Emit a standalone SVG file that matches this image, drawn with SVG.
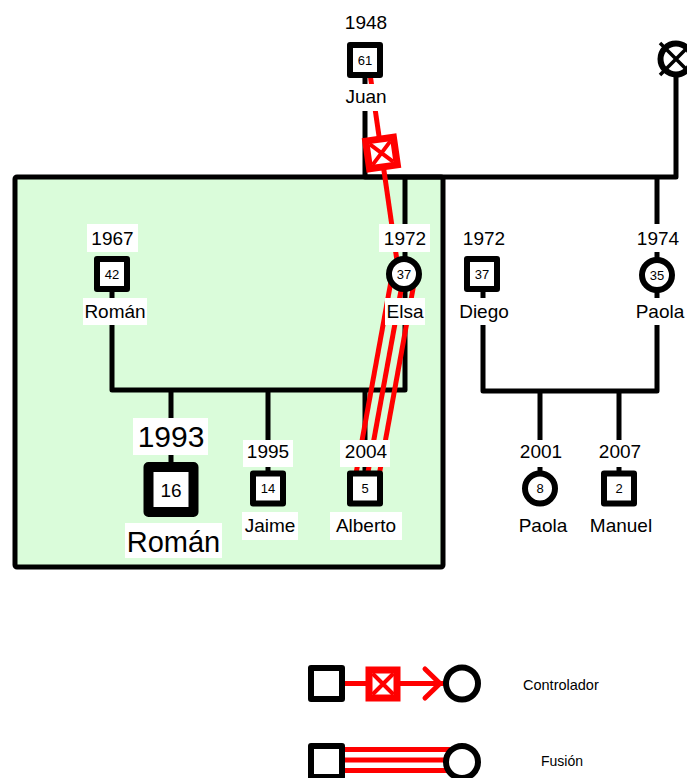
<svg xmlns="http://www.w3.org/2000/svg" width="687" height="778" viewBox="0 0 687 778">
<defs>
<style>
.ln{fill:none;stroke:#000;stroke-width:5;stroke-linejoin:round}
.red{fill:none;stroke:#ff0000;stroke-width:5}
.sq{fill:#fff;stroke:#000;stroke-width:6;stroke-linejoin:round}
.ci{fill:#fff;stroke:#000;stroke-width:6}
.lb{fill:#fff}
.t{font-family:"Liberation Sans",Arial,sans-serif;fill:#000;text-anchor:middle}
.y{font-size:19px}
.a{font-size:13px}
.big{font-size:30px}
.leg{font-family:"Liberation Sans",Arial,sans-serif;fill:#000;font-size:14.5px}
</style>
</defs>
<rect id="household" x="15" y="177" width="428" height="390" rx="2" fill="#dafcda" stroke="#000" stroke-width="5"/>
<g id="connectors">
<path class="ln" d="M365,78 V177 H676 V77"/>
<path class="ln" d="M405,177 V258"/>
<path class="ln" d="M657,177 V258"/>
<path class="ln" d="M112,290 V390 H405 V290"/>
<path class="ln" d="M171,390 V465"/>
<path class="ln" d="M268,390 V472"/>
<path class="ln" d="M365,390 V472"/>
<path class="ln" d="M483,290 V391 H657 V290"/>
<path class="ln" d="M540,391 V472"/>
<path class="ln" d="M619,391 V472"/>
<g id="fusion">
<line class="red" x1="392.7" y1="271.9" x2="353.7" y2="486.4"/>
<line class="red" x1="404" y1="274" x2="365" y2="488.5"/>
<line class="red" x1="415.3" y1="276.1" x2="376.3" y2="490.6"/>
</g>
<g id="controller">
<line class="red" x1="368.3" y1="62" x2="398.6" y2="272"/>
<g transform="translate(381.5,153) rotate(-8.1)">
<rect x="-14" y="-14" width="28" height="28" fill="#fff" stroke="#ff0000" stroke-width="7"/>
<path d="M-10.5,-10.5 L10.5,10.5 M10.5,-10.5 L-10.5,10.5" stroke="#ff0000" stroke-width="4"/>
</g>
</g>
</g>
<g id="labels">
<rect class="lb" x="340" y="84" width="51" height="27"/>
<rect class="lb" x="87" y="224" width="51" height="28"/>
<rect class="lb" x="83" y="298" width="64" height="27"/>
<rect class="lb" x="379" y="224" width="51" height="28"/>
<rect class="lb" x="385" y="298" width="40" height="27"/>
<rect class="lb" x="459" y="224" width="51" height="28"/>
<rect class="lb" x="455" y="298" width="58" height="27"/>
<rect class="lb" x="633" y="224" width="51" height="28"/>
<rect class="lb" x="633" y="298" width="54" height="27"/>
<rect class="lb" x="133" y="418" width="75" height="37"/>
<rect class="lb" x="125" y="523" width="97" height="35"/>
<rect class="lb" x="243" y="440" width="50" height="27"/>
<rect class="lb" x="242" y="512" width="56" height="28"/>
<rect class="lb" x="340" y="440" width="50" height="27"/>
<rect class="lb" x="330" y="512" width="72" height="28"/>
<rect class="lb" x="515" y="440" width="50" height="27"/>
<rect class="lb" x="594" y="440" width="50" height="27"/>
</g>
<g id="juan">
<text class="t y" x="366" y="29">1948</text>
<rect class="sq" x="350" y="45" width="30" height="30"/>
<text class="t a" x="365" y="64.5">61</text>
<text class="t y" x="366" y="103">Juan</text>
</g>
<g id="juan-wife">
<circle cx="676" cy="59" r="15.5" fill="#fff" stroke="#000" stroke-width="6"/>
<path d="M660,43 L692,75 M660,75 L692,43" stroke="#000" stroke-width="3.5"/>
</g>
<g id="roman1967">
<text class="t y" x="112.5" y="245">1967</text>
<rect class="sq" x="97" y="259" width="30" height="30"/>
<text class="t a" x="112" y="278.5">42</text>
<text class="t y" x="115" y="318">Román</text>
</g>
<g id="elsa">
<text class="t y" x="405" y="245">1972</text>
<circle class="ci" cx="404" cy="274" r="15"/>
<text class="t a" x="404" y="278.5">37</text>
<text class="t y" x="405" y="318">Elsa</text>
</g>
<g id="diego">
<text class="t y" x="484" y="245">1972</text>
<rect class="sq" x="467" y="259" width="30" height="30"/>
<text class="t a" x="482" y="278.5">37</text>
<text class="t y" x="484" y="318">Diego</text>
</g>
<g id="paola1974">
<text class="t y" x="658" y="245">1974</text>
<circle class="ci" cx="657" cy="275" r="15"/>
<text class="t a" x="657" y="279.5">35</text>
<text class="t y" x="660" y="318">Paola</text>
</g>
<g id="roman1993">
<text class="t big" x="171" y="447">1993</text>
<rect x="148.5" y="467" width="45" height="45" fill="#fff" stroke="#000" stroke-width="10" stroke-linejoin="round"/>
<text class="t" x="171" y="496.5" style="font-size:19px">16</text>
<text class="t" x="173.5" y="552" style="font-size:29px">Román</text>
</g>
<g id="jaime">
<text class="t y" x="268" y="458">1995</text>
<rect class="sq" x="253" y="473.5" width="30" height="30"/>
<text class="t a" x="268" y="493">14</text>
<text class="t y" x="270" y="532">Jaime</text>
</g>
<g id="alberto">
<text class="t y" x="366" y="458">2004</text>
<rect class="sq" x="350" y="473.5" width="30" height="30"/>
<text class="t a" x="365" y="493">5</text>
<text class="t y" x="366" y="532">Alberto</text>
</g>
<g id="paola2001">
<text class="t y" x="541" y="458">2001</text>
<circle class="ci" cx="540" cy="488.5" r="15"/>
<text class="t a" x="540" y="493">8</text>
<text class="t y" x="543" y="532">Paola</text>
</g>
<g id="manuel">
<text class="t y" x="620" y="458">2007</text>
<rect class="sq" x="604" y="473.5" width="30" height="30"/>
<text class="t a" x="619" y="493">2</text>
<text class="t y" x="621" y="532">Manuel</text>
</g>
<g id="legend">
<line x1="345" y1="683.5" x2="445" y2="683.5" stroke="#ff0000" stroke-width="5"/>
<path d="M425,669 L440,683.5 L425,698" fill="none" stroke="#ff0000" stroke-width="5" stroke-linecap="round" stroke-linejoin="round"/>
<rect x="369" y="670" width="28" height="28" fill="#fff" stroke="#ff0000" stroke-width="7"/>
<path d="M372.5,673.5 L393.5,694.5 M393.5,673.5 L372.5,694.5" stroke="#ff0000" stroke-width="4"/>
<rect class="sq" x="311" y="668" width="31" height="31"/>
<circle class="ci" cx="462" cy="683.5" r="16"/>
<text class="leg" x="523" y="690">Controlador</text>
<line x1="345" y1="749.5" x2="470" y2="749.5" stroke="#ff0000" stroke-width="5"/>
<line x1="345" y1="760" x2="470" y2="760" stroke="#ff0000" stroke-width="5"/>
<line x1="345" y1="770.5" x2="470" y2="770.5" stroke="#ff0000" stroke-width="5"/>
<rect class="sq" x="311" y="746" width="31" height="31"/>
<circle class="ci" cx="462" cy="762" r="16"/>
<text class="leg" x="541" y="766" style="font-size:14px">Fusión</text>
</g>
</svg>
